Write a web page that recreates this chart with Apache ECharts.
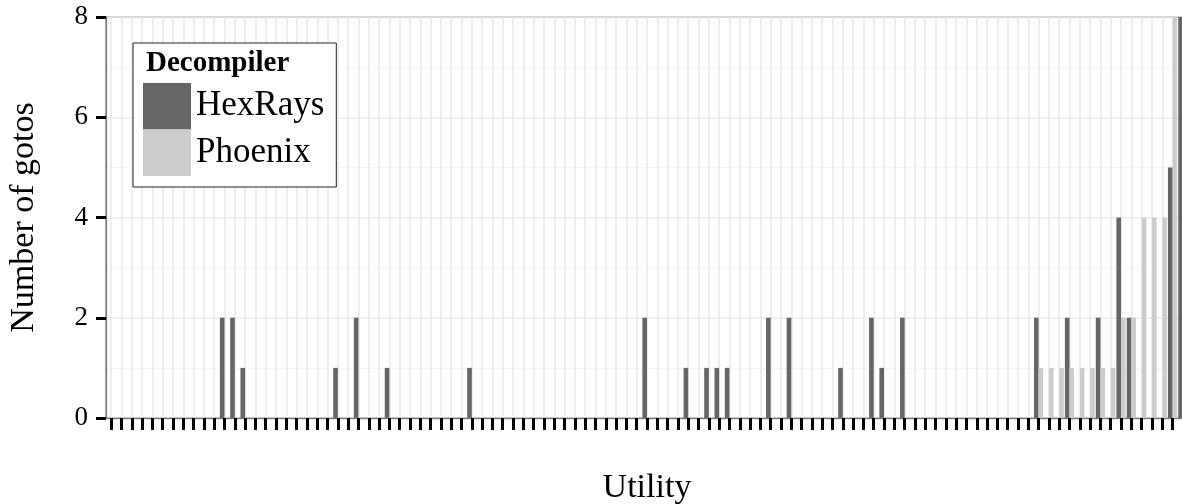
<!DOCTYPE html>
<html>
<head>
<meta charset="utf-8">
<title>Number of gotos per utility</title>
<script src="https://cdn.jsdelivr.net/npm/echarts@6/dist/echarts.min.js"></script>
<style>
  html, body { margin: 0; padding: 0; background: #ffffff; }
  #chart { width: 1182px; height: 504px; }
</style>
</head>
<body>
<div id="chart"></div>
<script>
// Goto counts per utility, one value per utility for each decompiler
const utilityCount = 105;
const utilities = Array.from({ length: utilityCount }, (_, i) => 'utility-' + String(i + 1).padStart(3, '0'));

const hexRays = [
  0, 0, 0, 0, 0, 0, 0, 0, 0, 0, 0, 2, 2, 1, 0,
  0, 0, 0, 0, 0, 0, 0, 1, 0, 2, 0, 0, 1, 0, 0,
  0, 0, 0, 0, 0, 1, 0, 0, 0, 0, 0, 0, 0, 0, 0,
  0, 0, 0, 0, 0, 0, 0, 2, 0, 0, 0, 1, 0, 1, 1,
  1, 0, 0, 0, 2, 0, 2, 0, 0, 0, 0, 1, 0, 0, 2,
  1, 0, 2, 0, 0, 0, 0, 0, 0, 0, 0, 0, 0, 0, 0,
  2, 0, 0, 2, 0, 0, 2, 0, 4, 2, 0, 0, 0, 5, 8
];

const phoenix = [
  0, 0, 0, 0, 0, 0, 0, 0, 0, 0, 0, 0, 0, 0, 0,
  0, 0, 0, 0, 0, 0, 0, 0, 0, 0, 0, 0, 0, 0, 0,
  0, 0, 0, 0, 0, 0, 0, 0, 0, 0, 0, 0, 0, 0, 0,
  0, 0, 0, 0, 0, 0, 0, 0, 0, 0, 0, 0, 0, 0, 0,
  0, 0, 0, 0, 0, 0, 0, 0, 0, 0, 0, 0, 0, 0, 0,
  0, 0, 0, 0, 0, 0, 0, 0, 0, 0, 0, 0, 0, 0, 0,
  1, 1, 1, 1, 1, 1, 1, 1, 2, 2, 4, 4, 4, 8, 8
];

const yTicks = [0, 2, 4, 6, 8];

const SERIF = '"Liberation Serif", "DejaVu Serif", serif';
const bandWidth = 10.305;
const barW = bandWidth * 0.45;

const chart = echarts.init(document.getElementById('chart'), null, { renderer: 'canvas' });

chart.setOption({
  animation: false,
  backgroundColor: '#ffffff',
  title: {
    text: 'Decompiler',
    left: 146,
    top: 49,
    padding: 0,
    textStyle: { fontFamily: SERIF, fontWeight: 'bold', fontSize: 29, color: '#000000' },
    z: 10
  },
  legend: {
    orient: 'vertical',
    left: 133,
    top: 43,
    padding: [40, 12, 11, 10],
    itemWidth: 48,
    itemHeight: 46.5,
    itemGap: 0,
    icon: 'rect',
    backgroundColor: '#ffffff',
    borderColor: '#222222',
    borderWidth: 1,
    borderRadius: 0,
    data: ['HexRays', 'Phoenix'],
    textStyle: { fontFamily: SERIF, fontSize: 35, color: '#000000', lineHeight: 40, padding: [5, 0, 0, 0] },
    selectedMode: false
  },
  grid: {
    left: 106,
    top: 17,
    width: bandWidth * utilityCount,
    height: 401,
    containLabel: false,
    outerBoundsMode: 'none',
    show: true,
    borderColor: '#7f7f7f',
    borderWidth: 1.3,
    backgroundColor: 'transparent'
  },
  xAxis: {
    type: 'category',
    data: utilities,
    boundaryGap: true,
    name: 'Utility',
    nameLocation: 'middle',
    nameGap: 53,
    nameTextStyle: { fontFamily: SERIF, fontSize: 34, color: '#000000' },
    axisLine: { show: true, lineStyle: { color: '#7f7f7f', width: 1.3 } },
    axisTick: { show: true, interval: 0, alignWithLabel: true, length: 12, lineStyle: { color: '#000000', width: 3 } },
    axisLabel: { show: false, interval: 0 },
    splitLine: { show: false }
  },
  yAxis: {
    type: 'value',
    min: yTicks[0],
    max: yTicks[yTicks.length - 1],
    interval: yTicks[1] - yTicks[0],
    name: 'Number of gotos',
    nameLocation: 'middle',
    nameGap: 65,
    nameTextStyle: { fontFamily: SERIF, fontSize: 34, color: '#000000' },
    axisLine: { show: true, lineStyle: { color: '#7f7f7f', width: 1.3 } },
    axisTick: { show: true, length: 10, lineStyle: { color: '#000000', width: 3 } },
    axisLabel: { margin: 18, fontFamily: SERIF, fontSize: 27, color: '#000000' },
    splitLine: { show: true, lineStyle: { color: '#ebebeb', width: 1.5 } },
    minorTick: { show: false, splitNumber: 2 },
    minorSplitLine: { show: true, lineStyle: { color: '#f5f5f5', width: 1 } }
  },
  series: [
    {
      // vertical guide lines at every utility
      name: 'guides',
      type: 'line',
      data: utilities.map(() => '-'),
      showSymbol: false,
      silent: true,
      z: 1,
      markLine: {
        silent: true,
        z: 1,
        symbol: ['none', 'none'],
        label: { show: false },
        emphasis: { disabled: true },
        lineStyle: { type: 'solid', color: '#e8e8e8', width: 1.5 },
        data: utilities.map(u => ({ xAxis: u }))
      }
    },
    {
      name: 'HexRays',
      type: 'bar',
      data: hexRays,
      barWidth: barW,
      barGap: '0%',
      z: 3,
      itemStyle: { color: '#666666' },
      emphasis: { disabled: true }
    },
    {
      name: 'Phoenix',
      type: 'bar',
      data: phoenix,
      barWidth: barW,
      barGap: '0%',
      z: 3,
      itemStyle: { color: '#cccccc' },
      emphasis: { disabled: true }
    }
  ]
});
</script>
</body>
</html>
